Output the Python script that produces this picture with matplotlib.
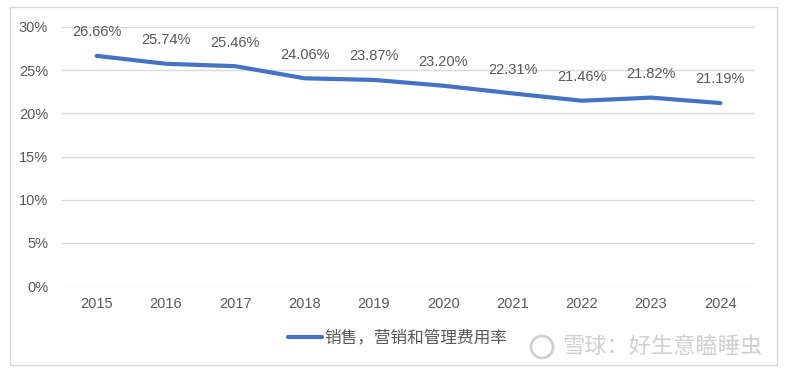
import matplotlib
matplotlib.use("Agg")
import matplotlib.pyplot as plt
from matplotlib.patches import Rectangle, Ellipse

plt.rcParams['font.family'] = ['Liberation Sans', 'Noto Sans CJK SC', 'DejaVu Sans']

years = ['2015', '2016', '2017', '2018', '2019', '2020', '2021', '2022', '2023', '2024']
ratio = [26.66, 25.74, 25.46, 24.06, 23.87, 23.20, 22.31, 21.46, 21.82, 21.19]
series_name = '销售，营销和管理费用率'

fig = plt.figure(figsize=(7.85, 3.73), dpi=100)
ax = fig.add_axes([62 / 785, 1 - 286 / 373, (755 - 62) / 785, (286 - 27) / 373])

# outer frame
fig.patches.append(Rectangle((10 / 785, 1 - 365 / 373), 767 / 785, 358 / 373,
                             transform=fig.transFigure, fill=False,
                             edgecolor='#d9d9d9', linewidth=1))

x = list(range(len(years)))
ax.plot(x, ratio, color='#4472C4', linewidth=3, solid_capstyle='round',
        label=series_name)
for xi, v in zip(x, ratio):
    ax.annotate(f'{v:.2f}%', (xi, v), xytext=(0, 12), textcoords='offset points',
                ha='center', va='bottom', fontsize=10.5, color='#595959')

ax.set_xlim(-0.5, len(years) - 0.5)
ax.set_ylim(0, 30)
ax.set_yticks(range(0, 31, 5))
ax.set_yticklabels([f'{t}%' for t in range(0, 31, 5)])
ax.set_xticks(x)
ax.set_xticklabels(years)
ax.tick_params(length=0, labelsize=10.5, labelcolor='#595959')
ax.tick_params(axis='y', pad=10)
ax.tick_params(axis='x', pad=8)
ax.grid(axis='y', color='#d9d9d9', linewidth=1)
ax.set_axisbelow(True)
for s in ax.spines.values():
    s.set_visible(False)

fig.legend(loc='center', bbox_to_anchor=(398 / 785, 1 - 338 / 373), frameon=False,
           fontsize=12, labelcolor='#595959', handlelength=2.0, handletextpad=0.2)

# watermark
fig.patches.append(Ellipse((542 / 785, 1 - 347 / 373), 22 / 785, 22 / 373,
                           transform=fig.transFigure, fill=False,
                           edgecolor='#d0d0d0', linewidth=2))
fig.text(562 / 785, 1 - 347 / 373, '雪球：好生意瞌睡虫', fontsize=16, color='#d0d0d0',
         ha='left', va='center')

fig.savefig('out.png', dpi=100)
